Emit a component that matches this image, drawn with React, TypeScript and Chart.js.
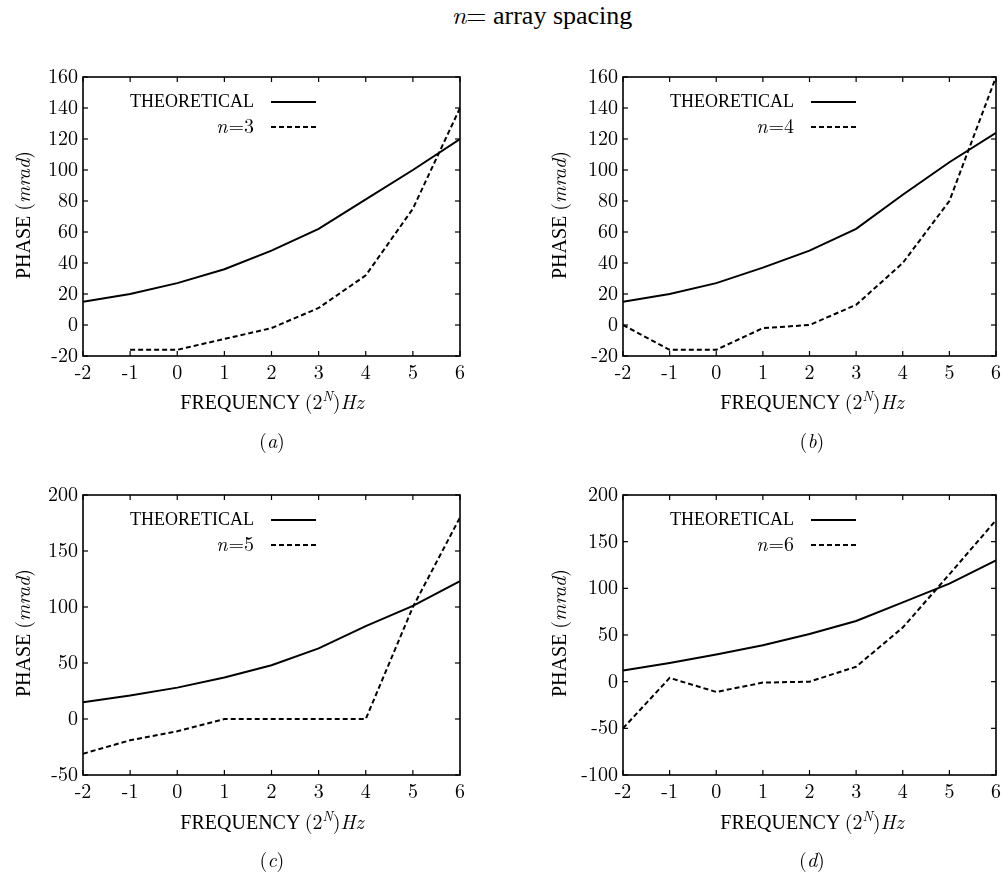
import React, { useEffect, useRef } from "react";
import { Chart, registerables } from "chart.js";
Chart.register(...registerables);

const FREQ = [-2, -1, 0, 1, 2, 3, 4, 5, 6];
const THEO_A = [15, 20, 27, 36, 48, 62, 81, 100, 120];
const N3 = [null, -16, -16, -9, -2, 11, 32, 75, 140];
const THEO_B = [15, 20, 27, 37, 48, 62, 84, 105, 124];
const N4 = [0, -16, -16, -2, 0, 13, 40, 80, 160];
const THEO_C = [15, 21, 28, 37, 48, 63, 83, 101, 123];
const N5 = [-31, -19, -11, 0, 0, 0, 0, 100, 180];
const THEO_D = [12, 20, 29, 39, 51, 65, 85, 105, 130];
const N6 = [-50, 4, -11, -1, 0, 16, 58, 115, 173];

const Y_RANGE_AB = [-20, 160, 20];
const Y_RANGE_C = [-50, 200, 50];
const Y_RANGE_D = [-100, 200, 50];

const TIMES = "Liberation Serif";
const CM = "Latin Modern Roman";

const toPts = (vals: (number | null)[]) =>
  FREQ.map((x, i) => ({ x, y: vals[i] })).filter((p) => p.y !== null);

const gnuPlugin = {
  id: "gnu",
  afterDatasetsDraw(chart: any) {
    const { ctx, chartArea, scales } = chart;
    const { left, right, top, bottom } = chartArea;
    const xs = scales.x;
    const ys = scales.y;
    const line = (x1: number, y1: number, x2: number, y2: number) => {
      ctx.beginPath();
      ctx.moveTo(x1, y1);
      ctx.lineTo(x2, y2);
      ctx.stroke();
    };
    ctx.save();
    ctx.strokeStyle = "#000";
    ctx.lineWidth = 1.2;
    const TL = 5;
    xs.ticks.forEach((t: any) => {
      const px = xs.getPixelForValue(t.value);
      line(px, bottom, px, bottom - TL);
      line(px, top, px, top + TL);
    });
    ys.ticks.forEach((t: any) => {
      const py = ys.getPixelForValue(t.value);
      line(left, py, left + TL, py);
      line(right, py, right - TL, py);
    });
    ctx.lineWidth = 1.6;
    ctx.strokeRect(left, top, right - left, bottom - top);

    // legend
    const opts = chart.options.plugins.gnu || {};
    const ds = chart.data.datasets;
    const tx = left + 171;
    const r1 = top + 25;
    const r2 = top + 50;
    ctx.fillStyle = "#000";
    ctx.textBaseline = "middle";
    ctx.textAlign = "right";
    ctx.font = `18px "${TIMES}"`;
    ctx.fillText(ds[0].label, tx, r1);
    ctx.lineWidth = 2;
    ctx.setLineDash([]);
    line(left + 188, r1, left + 233, r1);
    // n=k label
    ctx.font = `20px "${CM}"`;
    const rest = "=" + opts.nValue;
    ctx.fillText(rest, tx, r2);
    const w = ctx.measureText(rest).width;
    ctx.font = `italic 20px "${CM}"`;
    ctx.fillText("n", tx - w - 1, r2);
    ctx.setLineDash([5, 3]);
    line(left + 188, r2, left + 233, r2);
    ctx.restore();
  },
};

type PanelProps = {
  left: number;
  top: number;
  width: number;
  yWidth: number;
  padRight: number;
  axisH: number;
  theo: number[];
  meas: (number | null)[];
  nValue: string;
  yRange: number[];
};

function Panel(p: PanelProps) {
  const ref = useRef<HTMLCanvasElement>(null);
  const H = 330;
  useEffect(() => {
    const font = { family: CM, size: 20 };
    const chart = new Chart(ref.current as HTMLCanvasElement, {
      type: "line",
      data: {
        datasets: [
          {
            label: "THEORETICAL",
            data: toPts(p.theo) as any,
            borderColor: "#000",
            borderWidth: 2,
            pointRadius: 0,
            tension: 0,
            fill: false,
          },
          {
            label: "n=" + p.nValue,
            data: toPts(p.meas) as any,
            borderColor: "#000",
            borderWidth: 2,
            borderDash: [5, 3],
            pointRadius: 0,
            tension: 0,
            fill: false,
          },
        ],
      },
      options: {
        animation: false,
        responsive: false,
        layout: { padding: { top: 14, right: p.padRight, left: 0, bottom: 0 } },
        plugins: {
          legend: { display: false },
          tooltip: { enabled: false },
          gnu: { nValue: p.nValue },
        } as any,
        scales: {
          x: {
            type: "linear",
            min: -2,
            max: 6,
            ticks: { stepSize: 1, font, color: "#000", padding: 5, maxRotation: 0, autoSkip: false },
            grid: { display: false, drawTicks: false },
            border: { display: false },
            afterFit: (s: any) => {
              s.height = p.axisH;
            },
          },
          y: {
            type: "linear",
            min: p.yRange[0],
            max: p.yRange[1],
            ticks: { stepSize: p.yRange[2], font, color: "#000", padding: 5, autoSkip: false },
            grid: { display: false, drawTicks: false },
            border: { display: false },
            afterFit: (s: any) => {
              s.width = p.yWidth;
            },
          },
        },
      },
      plugins: [gnuPlugin],
    });
    return () => chart.destroy();
  }, []);
  return (
    <canvas
      ref={ref}
      width={p.width}
      height={H}
      style={{ position: "absolute", left: p.left, top: p.top, width: p.width, height: H }}
    />
  );
}

const textStyle = (cx: number, cy: number, size: number, rotate = false): React.CSSProperties => ({
  position: "absolute",
  left: cx,
  top: cy,
  transform: `translate(-50%, -50%)${rotate ? " rotate(-90deg)" : ""}`,
  fontFamily: TIMES,
  fontSize: size,
  lineHeight: 1,
  whiteSpace: "nowrap",
  color: "#000",
});

const cm: React.CSSProperties = { fontFamily: CM };

function Labels({ cx, plotCy, yTitleX, xTitleY, subY, sub }: any) {
  return (
    <>
      <div style={textStyle(yTitleX, plotCy, 20, true)}>
        PHASE <span style={cm}>(<i>mrad</i>)</span>
      </div>
      <div style={textStyle(cx, xTitleY, 20)}>
        FREQUENCY{" "}
        <span style={cm}>
          (2<span style={{ fontSize: 14, position: "relative", top: -8 }}><i>N</i></span>)<i>Hz</i>
        </span>
      </div>
      <div style={{ ...textStyle(cx, subY, 20), ...cm }}>
        (<i>{sub}</i>)
      </div>
    </>
  );
}

export default function App() {
  return (
    <div
      style={{
        position: "fixed",
        left: 0,
        top: 0,
        width: 1008,
        height: 873,
        background: "#fff",
        overflow: "hidden",
      }}
    >
      <div style={textStyle(542, 15, 26)}>
        <span style={cm}>
          <i>n</i>=
        </span>{" "}
        array spacing
      </div>
      <Panel left={0} top={60} width={470} yWidth={83} padRight={8} axisH={34} theo={THEO_A} meas={N3} nValue="3" yRange={Y_RANGE_AB} />
      <Panel left={540} top={60} width={466} yWidth={83} padRight={5} axisH={34} theo={THEO_B} meas={N4} nValue="4" yRange={Y_RANGE_AB} />
      <Panel left={0} top={478} width={470} yWidth={83} padRight={8} axisH={33} theo={THEO_C} meas={N5} nValue="5" yRange={Y_RANGE_C} />
      <Panel left={540} top={478} width={466} yWidth={83} padRight={5} axisH={33} theo={THEO_D} meas={N6} nValue="6" yRange={Y_RANGE_D} />
      <Labels cx={272} plotCy={215} yTitleX={22} xTitleY={401} subY={440} sub="a" />
      <Labels cx={812} plotCy={215} yTitleX={558} xTitleY={401} subY={440} sub="b" />
      <Labels cx={272} plotCy={633} yTitleX={22} xTitleY={821} subY={859} sub="c" />
      <Labels cx={812} plotCy={633} yTitleX={558} xTitleY={821} subY={859} sub="d" />
    </div>
  );
}
